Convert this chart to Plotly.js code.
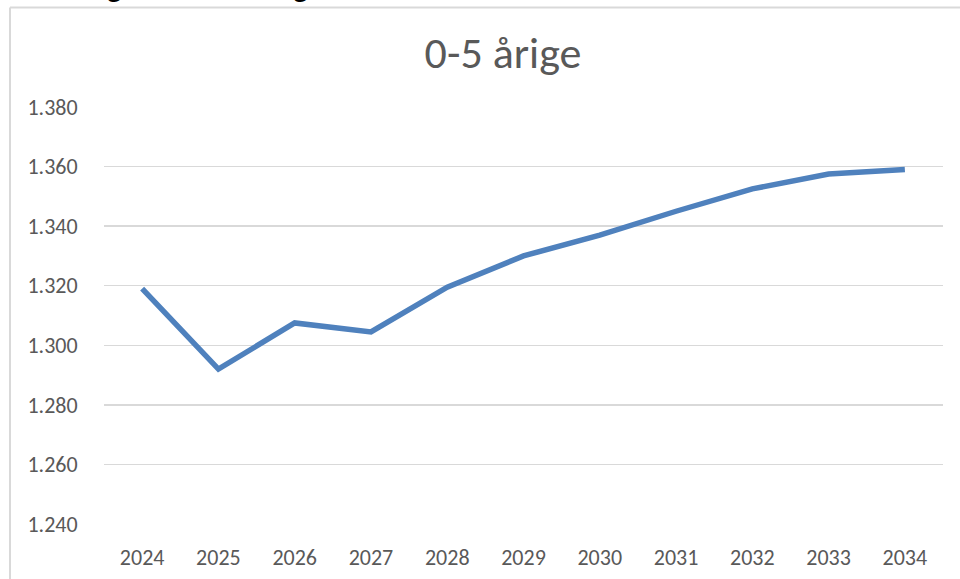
<!DOCTYPE html>
<html>
<head>
<meta charset="utf-8">
<script src="https://cdn.plot.ly/plotly-3.0.1.min.js"></script>
<style>
html,body{margin:0;padding:0;background:#fff;}
#chart{width:960px;height:579px;}
</style>
</head>
<body>
<div id="chart"></div>
<script>
const years = ['2024','2025','2026','2027','2028','2029','2030','2031','2032','2033','2034'];
const children = [1319, 1292, 1307.5, 1304.5, 1319.5, 1330, 1337, 1345, 1352.5, 1357.5, 1359];
const chartTitle = '0-5 årige';
const headingText = 'Udvikling i antal 0-5 årige';

const W = 960, H = 579;
const L = 104, R = 17, T = 107, B = 55;
const pw = W - L - R, ph = H - T - B;
const px = x => (x - L) / pw;
const py = y => (H - B - y) / ph;

const font = "Carlito, 'Open Sans', sans-serif";
const grey = '#595959';
const frame = '#d9d9d9';

const trace = {
  x: years,
  y: children,
  type: 'scatter',
  mode: 'lines',
  line: {color: '#4f81bd', width: 5.5, shape: 'linear'},
  hoverinfo: 'x+y'
};

const layout = {
  width: W, height: H,
  margin: {l: L, r: R, t: T, b: B, pad: 0},
  paper_bgcolor: '#ffffff',
  plot_bgcolor: '#ffffff',
  separators: ',.',
  showlegend: false,
  font: {family: font, color: grey, size: 22},
  title: {
    text: chartTitle,
    font: {family: font, size: 44, color: grey},
    x: 503 / W, xanchor: 'center', xref: 'container',
    y: 1 - 53 / H, yanchor: 'middle', yref: 'container'
  },
  xaxis: {
    type: 'category',
    range: [-0.5, years.length - 0.5],
    showgrid: false, zeroline: false, showline: false,
    ticks: 'outside', ticklen: 14, tickcolor: 'rgba(0,0,0,0)',
    tickfont: {family: font, size: 22, color: grey},
    fixedrange: true
  },
  yaxis: {
    range: [1240, 1380],
    dtick: 20, tick0: 1240,
    tickformat: ',d',
    showgrid: true, gridcolor: frame, gridwidth: 1.5,
    zeroline: false, showline: false,
    ticks: 'outside', ticklen: 21, tickcolor: 'rgba(0,0,0,0)',
    tickfont: {family: font, size: 22, color: grey},
    fixedrange: true
  },
  shapes: [
    {type: 'line', xref: 'paper', yref: 'paper', x0: px(10), x1: px(10), y0: py(7.5), y1: py(590), line: {color: frame, width: 2}},
    {type: 'line', xref: 'paper', yref: 'paper', x0: px(10), x1: px(970), y0: py(7.5), y1: py(7.5), line: {color: frame, width: 2}}
  ],
  annotations: [
    {text: headingText, xref: 'paper', yref: 'paper', x: px(3), y: py(-14), xanchor: 'left', yanchor: 'middle',
     showarrow: false, font: {family: font, size: 31, color: '#000000'}}
  ]
};

Plotly.newPlot('chart', [trace], layout, {displayModeBar: false, staticPlot: true});
</script>
</body>
</html>
